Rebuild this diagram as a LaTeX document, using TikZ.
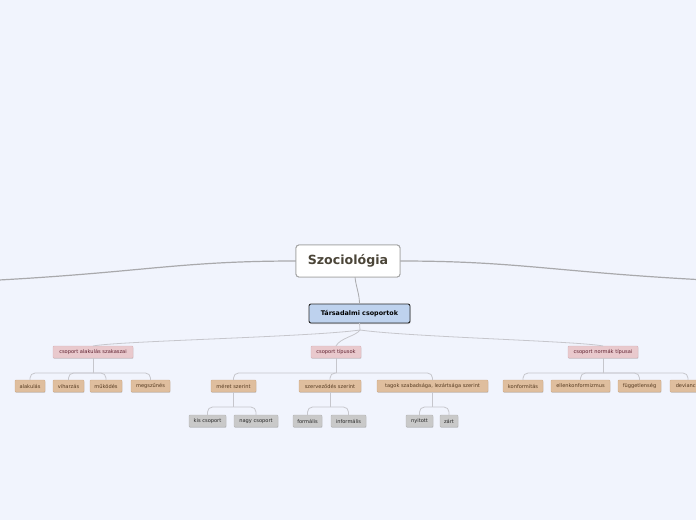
\documentclass[tikz,border=0pt]{standalone}
\usepackage{fontspec}
\setmainfont{DejaVu Sans}
\usetikzlibrary{shadows,calc}
\definecolor{bgc}{HTML}{F1F4FD}
\definecolor{mainline}{HTML}{A9A9AC}
\definecolor{treeline}{HTML}{C6C6CC}
\definecolor{szborder}{HTML}{A4A4A4}
\definecolor{sztext}{HTML}{4B4538}
\definecolor{tsfill}{HTML}{BED2EE}
\definecolor{tsborder}{HTML}{2A2A2A}
\definecolor{ltwofill}{HTML}{E9C9CD}
\definecolor{ltwoborder}{HTML}{D8B2B7}
\definecolor{ltwotext}{HTML}{5E1F2E}
\definecolor{lthreefill}{HTML}{DFBE9E}
\definecolor{lthreeborder}{HTML}{CFAA86}
\definecolor{lthreetext}{HTML}{553A20}
\definecolor{lfourfill}{HTML}{C9C9C9}
\definecolor{lfourborder}{HTML}{B4B4B4}
\definecolor{lfourtext}{HTML}{262626}
\tikzset{
  base/.style={inner sep=0pt, outer sep=0pt, align=center},
  rootbox/.style={base, draw=szborder, line width=0.9pt, fill=white, rounded corners=3pt,
    minimum width=104pt, minimum height=32pt, text=sztext,
    font=\fontsize{12.6}{14}\selectfont\bfseries},
  topicbox/.style={base, draw=tsborder, line width=0.9pt, fill=tsfill, rounded corners=2pt,
    minimum width=101pt, minimum height=19pt, text=black,
    font=\fontsize{6.4}{7.5}\selectfont\bfseries,
    drop shadow={shadow xshift=0.6pt, shadow yshift=-1pt, opacity=0.35}},
  lvltwo/.style={base, draw=ltwoborder, line width=0.4pt, fill=ltwofill, rounded corners=1pt,
    minimum height=12pt, text=ltwotext, font=\fontsize{5.1}{6}\selectfont,
    drop shadow={shadow xshift=0.4pt, shadow yshift=-0.9pt, opacity=0.3}},
  lvlthree/.style={base, draw=lthreeborder, line width=0.4pt, fill=lthreefill, rounded corners=1pt,
    minimum height=12pt, text=lthreetext, font=\fontsize{5.1}{6}\selectfont,
    drop shadow={shadow xshift=0.4pt, shadow yshift=-0.9pt, opacity=0.3}},
  lvlfour/.style={base, draw=lfourborder, line width=0.4pt, fill=lfourfill, rounded corners=1pt,
    minimum height=12pt, text=lfourtext, font=\fontsize{5.1}{6}\selectfont,
    drop shadow={shadow xshift=0.4pt, shadow yshift=-0.9pt, opacity=0.3}},
  mainconn/.style={draw=mainline, line width=1.2pt},
  treeconn/.style={draw=treeline, line width=0.8pt},
  bendconn/.style={treeconn, rounded corners=5pt},
}
\begin{document}
\begin{tikzpicture}[x=1pt, y=-1pt]
\fill[bgc] (0,0) rectangle (696,520);
\useasboundingbox (0,0) rectangle (696,520);
\clip (0,0) rectangle (696,520);

% root and topic
\node[rootbox] (sz) at (348,261) {Szociológia};
\node[topicbox] (ts) at (359.5,313.5) {Társadalmi csoportok};

\coordinate (lend) at (-20,281);
\coordinate (rend) at (716,280.5);
\draw[mainconn] (sz.west) .. controls +(-120,0) and +(160,-8) .. (lend);
\draw[mainconn] (sz.east) .. controls +(120,0) and +(-160,-8) .. (rend);
\draw[mainconn, line width=0.8pt] ($(sz.south)+(7,0)$) .. controls +(1,10) and +(0,-10) .. (ts.north);

% level 2
\node[lvltwo, minimum width=80pt] (a) at (93,352) {csoport alakulás szakaszai};
\node[lvltwo, minimum width=50pt] (t) at (336,352) {csoport típusok};
\node[lvltwo, minimum width=70pt] (n) at (603,352) {csoport normák típusai};

\coordinate (j) at (360,330);
\draw[treeconn] (ts.south) -- (j);
\draw[treeconn] (j) .. controls +(-50,7) and +(25,-5) .. (a.north);
\draw[treeconn] (j) .. controls +(-4,6) and +(4,-8) .. (t.north);
\draw[treeconn] (j) .. controls +(50,7) and +(-25,-5) .. (n.north);

% level 3
\node[lvlthree, minimum width=30pt] (a1) at (30,386) {alakulás};
\node[lvlthree, minimum width=31pt] (a2) at (68.5,386) {viharzás};
\node[lvlthree, minimum width=32pt] (a3) at (106,386) {működés};
\node[lvlthree, minimum width=39pt] (a4) at (150.5,386) {megszűnés};
\node[lvlthree, minimum width=45pt] (t1) at (233.5,386) {méret szerint};
\node[lvlthree, minimum width=62pt] (t2) at (330,386) {szerveződés szerint};
\node[lvlthree, minimum width=111pt] (t3) at (432.5,386) {tagok szabadsága, lezártsága szerint};
\node[lvlthree, minimum width=40pt] (n1) at (523,386) {konformitás};
\node[lvlthree, minimum width=59pt] (n2) at (580.5,386) {ellenkonformizmus};
\node[lvlthree, minimum width=43pt] (n3) at (639.5,386) {függetlenség};
\node[lvlthree, minimum width=36pt] (n4) at (688,386) {deviancia};

% level 4
\node[lvlfour, minimum width=37pt] (k1) at (207.5,421) {kis csoport};
\node[lvlfour, minimum width=44pt] (k2) at (256,421) {nagy csoport};
\node[lvlfour, minimum width=29pt] (f1) at (307.5,421) {formális};
\node[lvlfour, minimum width=35pt] (f2) at (348.5,421) {informális};
\node[lvlfour, minimum width=27pt] (y1) at (419.5,421) {nyitott};
\node[lvlfour, minimum width=18pt] (y2) at (449,421) {zárt};

% bars level 2 -> 3
\coordinate (ab) at (93,373);
\coordinate (tb) at (336,373);
\coordinate (nb) at (603,373);
\draw[treeconn] (a.south) -- (ab);
\draw[treeconn] (t.south) -- (tb);
\draw[treeconn] (n.south) -- (nb);
\foreach \c in {a1,a2,a3,a4} \draw[bendconn] (ab) -| (\c.north);
\foreach \c in {t1,t2,t3} \draw[bendconn] (tb) -| (\c.north);
\foreach \c in {n1,n2,n3,n4} \draw[bendconn] (nb) -| (\c.north);

% bars level 3 -> 4
\coordinate (t1b) at (233.5,407);
\coordinate (t2b) at (330,407);
\coordinate (t3b) at (432.5,407);
\draw[treeconn] (t1.south) -- (t1b);
\draw[treeconn] (t2.south) -- (t2b);
\draw[treeconn] (t3.south) -- (t3b);
\foreach \c in {k1,k2} \draw[bendconn] (t1b) -| (\c.north);
\foreach \c in {f1,f2} \draw[bendconn] (t2b) -| (\c.north);
\foreach \c in {y1,y2} \draw[bendconn] (t3b) -| (\c.north);

% root drawn again on top of its connectors
\node[rootbox] at (sz) {Szociológia};
\end{tikzpicture}
\end{document}
